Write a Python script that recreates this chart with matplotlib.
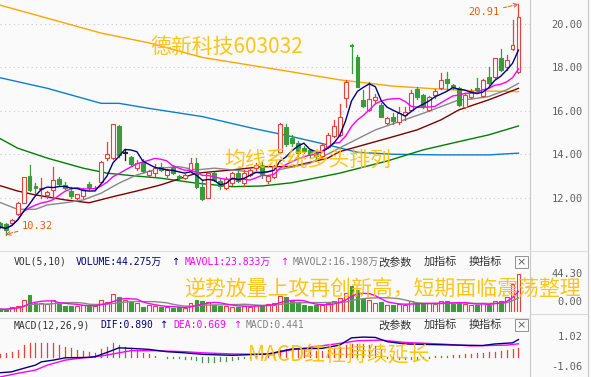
import matplotlib
matplotlib.use("Agg")
import matplotlib.pyplot as plt
import numpy as np
import pandas as pd

# ---------------- data ----------------
opens = [10.85,10.79,10.84,11.26,11.78,13.00,12.55,12.40,12.14,12.37,12.87,12.60,12.32,12.01,12.07,12.63,12.45,12.75,13.83,13.85,
         15.31,14.08,13.88,13.37,13.67,13.06,13.14,13.44,13.06,13.44,13.00,12.91,13.24,13.59,12.50,12.01,13.14,12.78,12.47,12.68,
         13.14,12.68,13.06,13.37,13.50,12.80,12.95,14.10,15.25,14.74,14.51,14.30,14.20,14.07,13.95,14.36,14.85,14.90,16.60,19.05,
         18.50,16.50,16.05,16.51,16.28,15.43,15.71,15.51,15.82,16.05,17.00,16.74,16.05,16.74,17.04,17.46,17.20,17.04,16.20,16.66,
         17.05,16.70,17.55,17.58,18.42,18.04,18.84,17.81]
highs = [10.90,10.85,11.05,11.80,12.98,13.52,12.68,12.91,12.30,13.41,12.95,12.75,12.50,12.20,12.45,12.75,12.55,13.70,14.59,15.42,
         15.35,14.25,13.95,13.75,13.80,13.30,13.55,13.60,13.35,13.50,13.05,13.10,13.83,13.83,12.83,13.20,13.20,12.85,12.95,13.20,
         13.25,13.30,13.35,13.60,13.65,13.05,13.50,15.45,15.39,14.90,14.60,14.40,14.25,14.15,14.50,15.00,15.60,16.30,17.40,19.07,
         18.55,16.97,17.35,16.80,16.35,15.70,15.90,16.17,16.20,16.97,17.10,16.80,16.70,17.00,17.76,17.81,17.25,17.10,16.80,17.00,
         17.50,17.45,18.04,18.45,18.84,18.57,20.20,20.91]
lows = [10.60,10.32,10.77,11.20,11.75,12.30,12.14,11.99,12.00,11.99,12.55,12.40,12.00,11.95,12.00,12.40,12.35,12.70,13.75,13.80,
        13.90,13.75,13.45,13.30,13.20,13.00,13.00,13.25,12.95,13.10,12.88,12.88,13.20,12.45,11.92,11.98,12.80,12.40,12.40,12.60,
        12.75,12.55,13.00,13.30,12.90,12.70,12.90,14.05,14.40,14.40,13.95,14.05,13.90,13.85,13.90,14.30,14.80,14.85,16.20,17.73,
        17.10,16.20,16.00,16.40,15.70,15.38,15.40,15.40,15.60,16.00,16.55,16.15,16.00,16.60,17.00,16.97,17.00,16.25,16.15,16.60,
        16.89,16.65,17.20,17.50,17.85,17.89,18.80,17.75]
closes = [10.67,10.53,10.99,11.76,12.95,12.37,12.45,12.47,12.26,12.83,12.64,12.45,12.07,12.18,12.37,12.52,12.48,13.67,14.02,15.40,
          13.98,14.08,13.55,13.62,13.24,13.26,13.37,13.29,13.29,13.14,12.93,13.06,13.59,12.52,11.95,13.14,12.83,12.57,12.87,13.14,
          12.80,13.14,13.29,13.52,13.10,13.00,13.45,15.40,14.48,14.51,14.06,14.15,14.00,13.92,14.44,14.90,15.30,15.74,17.35,19.00,
          17.12,16.23,16.54,16.66,15.74,15.66,15.55,15.89,15.97,16.81,16.63,16.23,16.66,16.93,17.43,17.27,17.08,16.28,16.74,16.93,
          16.95,17.43,17.27,18.42,17.89,18.34,19.03,20.31]

volumes = [3,2.7,5.1,6.7,13.7,19.6,10.6,10.6,9,13.7,9,7,7,6.7,7.8,6.7,6.7,13.7,11.7,20.8,
           17.6,13.7,11.7,9.8,5.1,7.8,6.7,5.9,5.9,3.9,5.1,3.9,9.8,14,12,11,8,7,7,6,
           6,7,6,8,8,9,10,18,17,12,10,8,7,8,8,10,12,16,22,30,
           25,15,14,10,11,8,8,9,8,12,10,9,10,9,12,12,9,11,9,8,
           8,10,8,13,12,17,33,44.3]

macd_hist = [0.12,0.20,0.26,0.34,0.60,0.69,0.72,0.69,0.69,0.69,0.60,0.52,0.43,0.34,0.31,0.26,0.20,0.38,0.52,0.72,
             0.60,0.52,0.43,0.34,0.17,0.12,0.05,-0.03,-0.05,-0.05,-0.09,-0.14,-0.14,-0.17,-0.26,-0.26,-0.26,-0.23,-0.21,-0.17,
             -0.14,-0.09,-0.05,0.02,0.10,0.15,0.20,0.35,0.40,0.45,0.40,0.35,0.30,0.28,0.30,0.35,0.40,0.50,0.60,0.66,
             0.68,0.66,0.62,0.55,0.34,-0.05,-0.08,-0.10,-0.12,-0.12,-0.10,-0.08,-0.05,0.01,0.02,0.05,0.08,0.10,0.12,0.15,
             0.18,0.20,0.22,0.26,0.30,0.34,0.40,0.44]

dif_idx = [0,2,4,6,7,9,11,15,16,18,20,22,25,28,31,34,39,45,49,54,57,59,61,63,65,68,71,77,81,83,86,87]
dif_val = [-0.84,-0.79,-0.61,-0.44,-0.27,-0.18,-0.06,-0.04,0.0,0.22,0.46,0.43,0.38,0.26,0.20,0.12,0.07,0.14,0.40,0.43,
           0.60,0.98,1.02,1.0,0.78,0.66,0.64,0.60,0.58,0.66,0.72,0.89]
dea_idx = [0,3,6,8,11,14,17,20,22,26,31,34,39,45,49,57,60,64,68,74,79,85,87]
dea_val = [-1.06,-0.87,-0.70,-0.44,-0.18,-0.06,0.03,0.20,0.31,0.31,0.26,0.20,0.14,0.12,0.36,0.69,0.83,0.86,0.74,0.66,
           0.56,0.60,0.669]

ma20_idx = [0,3,6,8,11,14,17,20,23,27,30,33,36,39,44,52,58,63,71,74,77,79,82,85,87]
ma20_val = [11.80,11.48,11.48,11.68,11.78,11.91,12.22,12.68,13.06,13.37,13.44,13.29,13.37,13.29,13.14,13.59,14.44,15.13,15.89,
            16.20,16.51,16.54,16.66,16.97,17.27]
ma30_idx = [0,3,6,11,15,19,23,27,33,39,44,49,55,57,65,70,74,77,82,87]
ma30_val = [12.57,12.32,12.14,11.91,11.78,12.06,12.32,12.60,13.14,13.29,13.44,13.44,13.83,14.13,14.74,15.13,15.59,16.05,16.51,17.04]
ma60_idx = [0,3,8,14,18,22,27,33,39,44,49,57,65,71,77,82,87]
ma60_val = [14.74,14.29,13.83,13.37,13.14,13.03,12.91,12.68,12.52,12.55,12.70,13.14,13.70,14.21,14.59,14.90,15.31]
ma120_idx = [0,8,17,20,25,34,42,49,55,60,66,74,82,87]
ma120_val = [17.53,17.04,16.35,16.35,16.12,15.74,15.23,14.82,14.44,14.10,14.01,13.98,13.98,14.06]
ma250_idx = [0,17,25,34,50,57,66,74,79,87]
ma250_val = [20.87,19.58,19.13,18.46,17.75,17.43,17.14,17.00,16.93,16.89]

price_ticks = [12, 14, 16, 18, 20]
vol_ticks = [0.0, 44.30]
macd_ticks = [-1.06, 1.02]

# ---------------- style ----------------
W, H = 591, 377
BG = "#fafafa"
RED = "#e8403a"
GREEN = "#3a9b3a"
OVER = "#ffc000"
MONO = ["DejaVu Sans Mono", "Noto Sans CJK SC"]
CJK = ["Noto Sans CJK SC", "DejaVu Sans"]

fig = plt.figure(figsize=(W / 100, H / 100), dpi=100)
fig.patch.set_facecolor(BG)


def add_ax(x0, y0, x1, y1):
    a = fig.add_axes([x0 / W, 1 - y1 / H, (x1 - x0) / W, (y1 - y0) / H])
    a.set_facecolor("none")
    for s in a.spines.values():
        s.set_visible(False)
    a.set_xticks([])
    a.set_xlim(0.05, 88.93)
    return a


n = len(closes)
x = np.arange(n)
o = np.array(opens); c = np.array(closes); h = np.array(highs); l = np.array(lows)

# ---------------- price panel ----------------
ax = add_ax(0, 0, 530, 248)
ax.set_ylim(9.70, 21.10)
for t in price_ticks:
    ax.axhline(t, color="#c8c8c8", lw=0.8, ls=(0, (1, 3)), zorder=0)

bw = 0.66
for i in range(n):
    top, bot = max(o[i], c[i]), min(o[i], c[i])
    if c[i] > o[i]:
        col, fc = RED, BG
    elif c[i] < o[i]:
        col, fc = GREEN, GREEN
    else:
        col, fc = "#202020", "#202020"
    ax.plot([i, i], [top, h[i]], color=col, lw=0.9, zorder=3)
    ax.plot([i, i], [l[i], bot], color=col, lw=0.9, zorder=3)
    ax.bar(i, max(top - bot, 0.03), bottom=bot, width=bw, facecolor=fc, edgecolor=col, lw=0.8, zorder=4)

ma5 = pd.Series(closes).rolling(5, min_periods=1).mean()
ma10 = pd.Series(closes).rolling(10, min_periods=1).mean()
ax.plot(ma250_idx, ma250_val, color="#ffa500", lw=1.0, zorder=2)
ax.plot(ma120_idx, ma120_val, color="#0a7fd0", lw=1.0, zorder=2)
ax.plot(ma60_idx, ma60_val, color="#008000", lw=1.0, zorder=2)
ax.plot(ma30_idx, ma30_val, color="#800000", lw=1.0, zorder=2)
ax.plot(ma20_idx, ma20_val, color="#888888", lw=1.0, zorder=2)
ax.plot(x, ma10, color="#ff00ff", lw=1.0, zorder=5)
ax.plot(x, ma5, color="#000080", lw=1.0, zorder=5)

ax.yaxis.tick_right()
ax.set_yticks(price_ticks)
ax.set_yticklabels([f"{t:.2f}" for t in price_ticks], family=MONO, fontsize=7.5, color="#606060")
ax.tick_params(axis="y", length=0, pad=38)
for lab in ax.get_yticklabels():
    lab.set_ha("right")

hi_i = int(np.argmax(h)); lo_i = int(np.argmin(l))
ax.annotate(f"{h[hi_i]:.2f}", xy=(hi_i, h[hi_i]), xytext=(-25, -6), textcoords="offset points",
            ha="center", va="center", family=MONO, fontsize=7.5, color="#e8600c",
            arrowprops=dict(arrowstyle="->", color="#e8600c", ls="--", lw=0.7, shrinkA=1, shrinkB=0))
ax.annotate(f"{l[lo_i]:.2f}", xy=(lo_i, l[lo_i]), xytext=(23, 6), textcoords="offset points",
            ha="center", va="center", family=MONO, fontsize=7.5, color="#e8600c",
            arrowprops=dict(arrowstyle="->", color="#e8600c", ls="--", lw=0.7, shrinkA=1, shrinkB=0))

# ---------------- volume panel ----------------
axv = add_ax(0, 266, 530, 312)
axv.set_ylim(-0.35, 53.7)
vcol = [RED if closes[i] >= opens[i] else GREEN for i in range(n)]
for i in range(n):
    if vcol[i] == RED:
        axv.bar(i, volumes[i], width=bw, facecolor=BG, edgecolor=RED, lw=0.8)
    else:
        axv.bar(i, volumes[i], width=bw, facecolor=GREEN, edgecolor=GREEN, lw=0.8)
mv5 = pd.Series(volumes).rolling(5, min_periods=1).mean()
mv10 = pd.Series(volumes).rolling(10, min_periods=1).mean()
axv.plot(x, mv10, color="#888888", lw=1.0)
axv.plot(x, mv5, color="#ff00ff", lw=1.0)
axv.set_yticks([])
axv.annotate(f"{vol_ticks[1]:.2f}", xy=(1, vol_ticks[1]), xycoords=("axes fraction", "data"),
             xytext=(38, 0), textcoords="offset points", ha="right", va="center",
             family=MONO, fontsize=7.5, color="#606060")
axv.annotate(f"{vol_ticks[0]:.2f}", xy=(1, vol_ticks[0]), xycoords=("axes fraction", "data"),
             xytext=(38, 7), textcoords="offset points", ha="right", va="center",
             family=MONO, fontsize=7.5, color="#606060")

# ---------------- MACD panel ----------------
axm = add_ax(0, 331, 530, 377)
axm.set_ylim(-1.06, 1.336)
for i in range(n):
    axm.plot([i, i], [0, macd_hist[i]], color=RED if macd_hist[i] >= 0 else GREEN, lw=0.9)
axm.plot(dea_idx, dea_val, color="#ff00ff", lw=1.0)
axm.plot(dif_idx, dif_val, color="#000080", lw=1.0)
axm.set_yticks([])
axm.annotate(f"{macd_ticks[1]:.2f}", xy=(1, macd_ticks[1]), xycoords=("axes fraction", "data"),
             xytext=(38, 0), textcoords="offset points", ha="right", va="center",
             family=MONO, fontsize=7.5, color="#606060")
axm.annotate(f"{macd_ticks[0]:.2f}", xy=(1, macd_ticks[0]), xycoords=("axes fraction", "data"),
             xytext=(38, 7), textcoords="offset points", ha="right", va="center",
             family=MONO, fontsize=7.5, color="#606060")

# ---------------- frame lines ----------------
def fline(x0, y0, x1, y1, col="#c8c8c8", lw=0.8):
    fig.add_artist(plt.Line2D([x0 / W, x1 / W], [1 - y0 / H, 1 - y1 / H], color=col, lw=lw))

fline(530, 0, 530, H)
fline(588, 0, 588, H)
fline(0, 251, 588, 251, "#e0e0e0")
fline(0, 318, 530, 318, "#d8d8d8")
fline(530, 314, 588, 314, "#d8d8d8")


def ftext(px, py, s, color="#333333", size=7, fam=MONO, **kw):
    fig.text(px / W, 1 - py / H, s, color=color, fontsize=size, family=fam, va="center", ha="left", **kw)


def close_box(py):
    fig.add_artist(plt.Rectangle((515 / W, 1 - (py + 6) / H), 13 / W, 12 / H, transform=fig.transFigure,
                                 fill=False, ec="#909090", lw=0.7))
    fig.text(521.5 / W, 1 - py / H, "×", ha="center", va="center", fontsize=8, color="#606060")

# volume header
ftext(14, 262, "VOL(5,10)", "#333333")
ftext(76, 262, "VOLUME:44.275万", "#000080")
ftext(172, 262, "↑", "#000080", fam=["DejaVu Sans"])
ftext(185, 262, "MAVOL1:23.833万", "#ff00ff")
ftext(281, 262, "↑", "#ff00ff", fam=["DejaVu Sans"])
ftext(293, 262, "MAVOL2:16.198万", "#808080")
ftext(378, 262, "改参数", "#333333", size=8, fam=CJK)
ftext(424, 262, "加指标", "#333333", size=8, fam=CJK)
ftext(469, 262, "换指标", "#333333", size=8, fam=CJK)
close_box(262)

# MACD header
ftext(14, 325, "MACD(12,26,9)", "#333333")
ftext(100, 325, "DIF:0.890", "#000080")
ftext(160, 325, "↑", "#000080", fam=["DejaVu Sans"])
ftext(173, 325, "DEA:0.669", "#ff00ff")
ftext(234, 325, "↑", "#ff00ff", fam=["DejaVu Sans"])
ftext(246, 325, "MACD:0.441", "#808080")
ftext(378, 325, "改参数", "#333333", size=8, fam=CJK)
ftext(424, 325, "加指标", "#333333", size=8, fam=CJK)
ftext(469, 325, "换指标", "#333333", size=8, fam=CJK)
close_box(325)

# overlay annotations
ftext(150, 47, "德新科技603032", OVER, size=15, fam=CJK, alpha=0.9)
ftext(224, 160, "均线系统多头排列", OVER, size=15, fam=CJK, alpha=0.9)
ftext(184, 290, "逆势放量上攻再创新高，短期面临震荡整理", OVER, size=15, fam=CJK, alpha=0.9)
ftext(248, 355, "MACD红柱持续延长", OVER, size=15, fam=CJK, alpha=0.9)

fig.savefig("out.png", dpi=100, facecolor=BG)
